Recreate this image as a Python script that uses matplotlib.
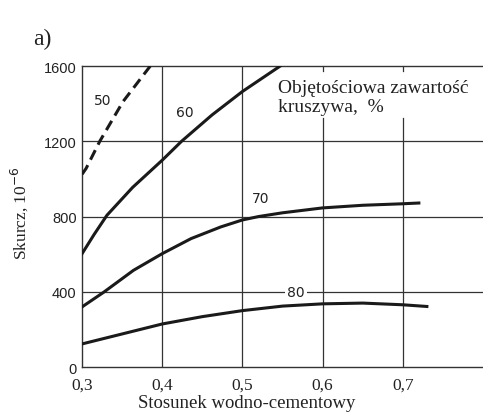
import matplotlib.pyplot as plt
import numpy as np

# water-cement ratio vs shrinkage, one curve per aggregate content (%)
x50 = [0.30, 0.305, 0.322, 0.351, 0.385]
y50 = [1025, 1056, 1200, 1411, 1600]

x60 = [0.30, 0.315, 0.331, 0.363, 0.40, 0.424, 0.462, 0.50, 0.547]
y60 = [603, 705, 807, 955, 1100, 1200, 1340, 1465, 1600]

x70 = [0.30, 0.327, 0.364, 0.40, 0.436, 0.473, 0.50, 0.52, 0.55, 0.60, 0.65, 0.70, 0.72]
y70 = [320, 398, 514, 603, 683, 745, 782, 800, 820, 846, 860, 868, 872]

x80 = [0.30, 0.35, 0.40, 0.45, 0.50, 0.55, 0.60, 0.65, 0.70, 0.73]
y80 = [123, 176, 229, 268, 300, 324, 336, 340, 331, 322]

xticks = [0.3, 0.4, 0.5, 0.6, 0.7]
xticklabels = ["0,3", "0,4", "0,5", "0,6", "0,7"]
yticks = [0, 400, 800, 1200, 1600]

ink = "#1a1a1a"
grid_c = "#333333"

fig = plt.figure(figsize=(4.83, 4.14), dpi=100)
ax = fig.add_axes([0.170, 0.111, 0.830, 0.727])
ax.set_xlim(0.3, 0.8)
ax.set_ylim(0, 1600)

# grid, with the two right verticals stopping below the caption
for xv in [0.4, 0.5]:
    ax.axvline(xv, color=grid_c, lw=0.9, zorder=1)
for xv in [0.6, 0.7]:
    ax.axvline(xv, ymax=0.826, color=grid_c, lw=0.9, zorder=1)
    ax.axvline(xv, ymin=0.985, color=grid_c, lw=0.9, zorder=1)
for yv in [400, 800, 1200]:
    ax.axhline(yv, color=grid_c, lw=0.9, zorder=1)

ax.plot(x50, y50, color=ink, lw=2.2, ls=(0, (3.5, 2.0)), zorder=3)
ax.plot(x60, y60, color=ink, lw=2.2, zorder=3)
ax.plot(x70, y70, color=ink, lw=2.2, zorder=3)
ax.plot(x80, y80, color=ink, lw=2.2, zorder=3)

lab = dict(fontsize=10, family="DejaVu Sans", color="#222222", zorder=4)
ax.text(0.326, 1420, "50", ha="center", va="center", **lab)
ax.text(0.428, 1358, "60", ha="center", va="center", **lab)
ax.text(0.523, 896, "70", ha="center", va="center", **lab)
ax.text(0.567, 400, "80", ha="center", va="center",
        bbox=dict(facecolor="white", edgecolor="none", pad=1.5), **lab)

ax.text(0.544, 1530, "Objętościowa zawartość\nkruszywa,  %", ha="left", va="top",
        fontsize=14, family="Liberation Serif", color="#222222", linespacing=1.1,
        zorder=4)

ax.set_xticks(xticks)
ax.set_xticklabels(xticklabels, family="Liberation Serif", fontsize=12.5)
ax.set_yticks(yticks)
ax.set_yticklabels([str(v) for v in yticks], family="Liberation Sans", fontsize=10.5)
ax.tick_params(axis="y", length=0, pad=4, colors="#222222")
ax.tick_params(axis="x", length=0, pad=7, colors="#222222")

for s in ["left", "bottom", "top"]:
    ax.spines[s].set_color(grid_c)
    ax.spines[s].set_linewidth(1.0)
ax.spines["right"].set_visible(False)

ax.set_xlabel("Stosunek wodno-cementowy", family="Liberation Serif", fontsize=13.5,
              color="#222222")
ax.xaxis.set_label_coords(0.41, -0.09)
ax.set_ylabel("Skurcz, 10$^{-6}$", family="Liberation Serif", fontsize=12.5,
              color="#222222")
ax.yaxis.set_label_coords(-0.13, 0.515)

fig.text(0.068, 0.905, "a)", family="Liberation Serif", fontsize=17, color="#222222",
         ha="left", va="center")

fig.savefig("out.png", dpi=100)
